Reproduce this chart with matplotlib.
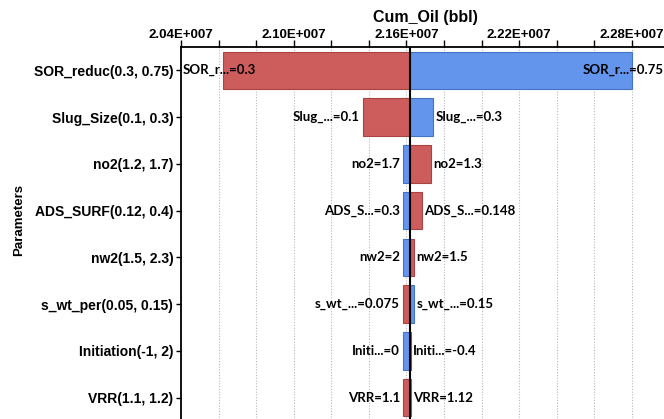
import matplotlib
matplotlib.use("Agg")
import matplotlib.pyplot as plt
from matplotlib.ticker import MultipleLocator, FuncFormatter

# Tornado chart data: cumulative oil for the low / high setting of each parameter
parameters = [
    "SOR_reduc(0.3, 0.75)",
    "Slug_Size(0.1, 0.3)",
    "no2(1.2, 1.7)",
    "ADS_SURF(0.12, 0.4)",
    "nw2(1.5, 2.3)",
    "s_wt_per(0.05, 0.15)",
    "Initiation(-1, 2)",
    "VRR(1.1, 1.2)",
]
short_names = ["SOR_r...", "Slug_...", "no2", "ADS_S...", "nw2", "s_wt_...", "Initi...", "VRR"]
low_settings = ["0.3", "0.1", "1.3", "0.148", "1.5", "0.075", "-0.4", "1.1"]
high_settings = ["0.75", "0.3", "1.7", "0.3", "2", "0.15", "0", "1.12"]

base_oil = 2.1621e7
low_oil = [2.0624e7, 2.1369e7, 2.1733e7, 2.1684e7, 2.1643e7, 2.1582e7, 2.1622e7, 2.1582e7]
high_oil = [2.2802e7, 2.1744e7, 2.1582e7, 2.1582e7, 2.1582e7, 2.1643e7, 2.1582e7, 2.1622e7]

x_min, x_max, x_step = 2.04e7, 2.30e7, 0.02e7

LOW_COLOR, LOW_EDGE = "#CD5C5C", "#A94444"
HIGH_COLOR, HIGH_EDGE = "#6495ED", "#4472C4"

plt.rcParams["font.family"] = ["Liberation Sans", "DejaVu Sans"]
plt.rcParams["font.weight"] = "bold"

W, H = 664, 419
fig = plt.figure(figsize=(W / 100, H / 100), dpi=100)
ax_left, ax_right, ax_top, ax_bottom = 181, 669.4, 47, 421
ax = fig.add_axes([ax_left / W, 1 - ax_bottom / H,
                   (ax_right - ax_left) / W, (ax_bottom - ax_top) / H])

rows = list(range(len(parameters)))
bar_h = 0.8

for i in rows:
    lo, hi = low_oil[i], high_oil[i]
    ax.barh(i, lo - base_oil, left=base_oil, height=bar_h,
            color=LOW_COLOR, edgecolor=LOW_EDGE, linewidth=0.8, zorder=2)
    ax.barh(i, hi - base_oil, left=base_oil, height=bar_h,
            color=HIGH_COLOR, edgecolor=HIGH_EDGE, linewidth=0.8, zorder=2)

ax.axvline(base_oil, color="black", linewidth=1.5, zorder=4)

ax.set_xlim(x_min, x_max)
ax.set_ylim(len(parameters) - 0.5, -0.5)

ax.xaxis.tick_top()
ax.xaxis.set_label_position("top")
ax.xaxis.set_major_locator(MultipleLocator(x_step))


def fmt_tick(v, pos):
    k = int(round((v - x_min) / x_step))
    if k % 3 == 0:
        return f"{v / 1e7:.2f}E+007"
    return ""


ax.xaxis.set_major_formatter(FuncFormatter(fmt_tick))
ax.tick_params(axis="x", which="major", top=True, bottom=False, length=5,
               width=1, pad=-0.8, labelsize=9.5)
ax.tick_params(axis="y", length=3.5, width=1, pad=2, labelsize=10)
ax.set_yticks(rows)
ax.set_yticklabels(parameters)
ax.set_xlabel("Cum_Oil (bbl)", fontsize=11.5, fontweight="bold", labelpad=5.5)

ax.grid(axis="x", linestyle=(0, (1, 1.5)), color="#B8B8B8", linewidth=0.8)
ax.set_axisbelow(True)
for sp in ax.spines.values():
    sp.set_linewidth(1.3)
    sp.set_color("black")

fig.text(19 / W, 1 - 220 / H, "Parameters", rotation=90, ha="center",
         va="center", fontsize=9.5, fontweight="bold")

# bar-end annotations: the bar extending left is labelled on its left,
# the bar extending right on its right
labels = []
for i in rows:
    for val, setting in ((low_oil[i], low_settings[i]), (high_oil[i], high_settings[i])):
        txt = f"{short_names[i]}={setting}"
        if val < base_oil:
            t = ax.annotate(txt, xy=(val, i), xytext=(-2.2, 0), textcoords="offset points",
                            ha="right", va="center", fontsize=9.5,
                            family=["Lato", "DejaVu Sans"], fontweight="bold", zorder=5)
        else:
            t = ax.annotate(txt, xy=(val, i), xytext=(1.6, 0), textcoords="offset points",
                            ha="left", va="center", fontsize=9.5,
                            family=["Lato", "DejaVu Sans"], fontweight="bold", zorder=5)
        labels.append((t, i))

# keep annotations inside the visible plotting area
fig.canvas.draw()
renderer = fig.canvas.get_renderer()
ax_bb = ax.get_window_extent(renderer)
right_limit = min(ax_bb.x1, fig.bbox.x1)
for t, i in labels:
    bb = t.get_window_extent(renderer)
    if bb.x0 < ax_bb.x0:
        t.xy = (x_min, i)
        t.set_ha("left")
        t.set_position((1.0, 0))
    elif bb.x1 > right_limit:
        x_edge = ax.transData.inverted().transform((right_limit, 0))[0]
        t.xy = (x_edge, i)
        t.set_ha("right")
        t.set_position((-0.5, 0))

fig.savefig("out.png", dpi=100)
